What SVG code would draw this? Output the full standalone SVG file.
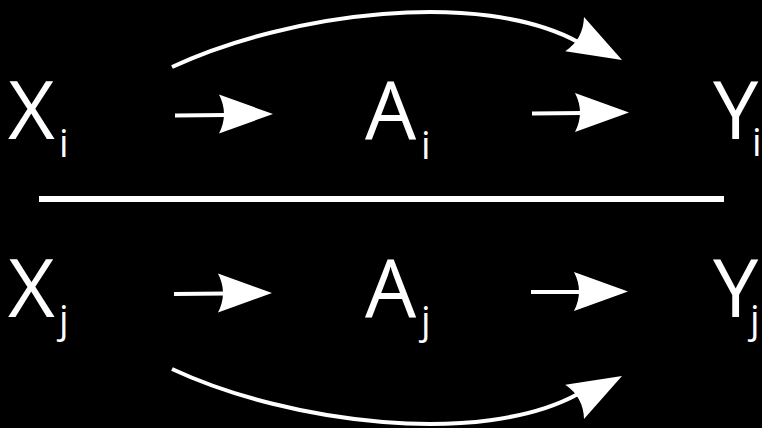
<svg xmlns="http://www.w3.org/2000/svg" xmlns:xlink="http://www.w3.org/1999/xlink" width="762" height="428" viewBox="0 0 762 428">
  <style>
    .lbl { font-family: "Open Sans", "Liberation Sans", sans-serif; fill: #ffffff; font-size: 81px; }
    .sub { font-family: "Open Sans", "Liberation Sans", sans-serif; fill: #ffffff; font-size: 38px; }
    .edge { fill: none; stroke: #ffffff; stroke-width: 4; }
    .head { fill: #ffffff; }
  </style>
  <defs>
    <path id="arrowhead" d="M0,0 L-54,-19.5 Q-44,0 -54,19.5 Z"/>
  </defs>
  <rect x="0" y="0" width="762" height="428" fill="#000000"/>

  <g id="Xi"><text class="lbl" x="8" y="138.5">X</text><text class="sub" x="59" y="157">i</text></g>
  <g id="Ai"><text class="lbl" x="365" y="138.5">A</text><text class="sub" x="421" y="159">i</text></g>
  <g id="Yi"><text class="lbl" x="713" y="138.5">Y</text><text class="sub" x="752" y="156">i</text></g>
  <g id="Xj"><text class="lbl" x="8" y="316.5">X</text><text class="sub" x="59" y="333">j</text></g>
  <g id="Aj"><text class="lbl" x="365" y="316.5">A</text><text class="sub" x="421" y="334">j</text></g>
  <g id="Yj"><text class="lbl" x="713" y="316.5">Y</text><text class="sub" x="750" y="333">j</text></g>

  <g id="divider"><line x1="39" y1="199" x2="724" y2="199" stroke="#ffffff" stroke-width="6"/></g>

  <g id="connectors">
    <path class="edge" d="M175,115.5 L226,115"/>
    <use xlink:href="#arrowhead" class="head" transform="translate(273,114)"/>
    <path class="edge" d="M532,113.5 L582,113"/>
    <use xlink:href="#arrowhead" class="head" transform="translate(629,112.5)"/>
    <path class="edge" d="M174,294 L225,293.5"/>
    <use xlink:href="#arrowhead" class="head" transform="translate(272,293)"/>
    <path class="edge" d="M531,292 L580,292"/>
    <use xlink:href="#arrowhead" class="head" transform="translate(628,291.5)"/>
    <path class="edge" d="M172,67 C290,12 481,-11 578,42"/>
    <use xlink:href="#arrowhead" class="head" transform="translate(622,60) rotate(28.7)"/>
    <path class="edge" d="M172,369 C290,424 481,447 578,394"/>
    <use xlink:href="#arrowhead" class="head" transform="translate(622,376) rotate(-28.7)"/>
  </g>
</svg>
